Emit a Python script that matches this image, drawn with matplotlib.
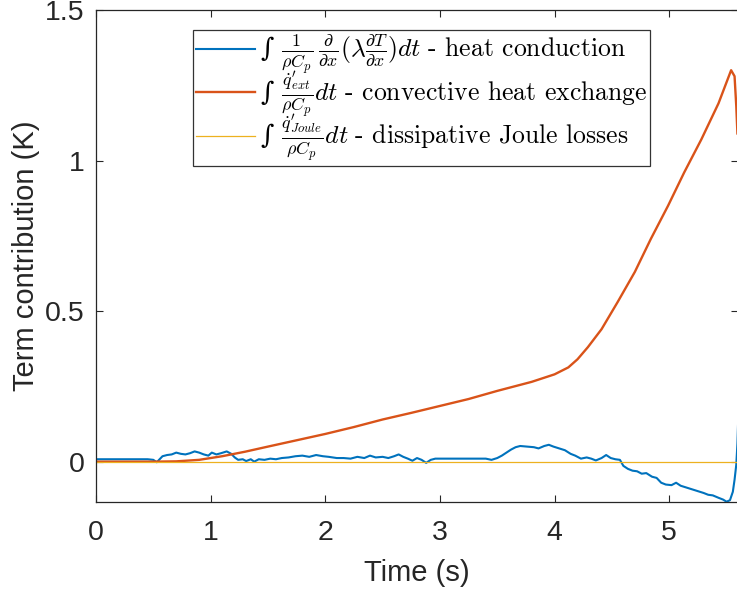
import matplotlib
matplotlib.use("Agg")
import matplotlib.pyplot as plt

# data
# heat conduction term (blue)
t_cond = [0.00, 0.45, 0.50, 0.53, 0.55, 0.58, 0.62, 0.66, 0.70, 0.74, 0.78, 0.82, 0.86, 0.90,
          0.94, 0.98, 1.01, 1.05, 1.09, 1.14, 1.18, 1.21, 1.24, 1.28, 1.31, 1.35, 1.38, 1.42,
          1.47, 1.52, 1.57, 1.62, 1.68, 1.74, 1.80, 1.86, 1.92, 1.98, 2.03, 2.10, 2.16, 2.22,
          2.28, 2.34, 2.39, 2.44, 2.50, 2.55, 2.60, 2.64, 2.68, 2.72, 2.76, 2.80, 2.84, 2.88,
          2.92, 2.96, 3.00, 3.10, 3.20, 3.30, 3.40, 3.45, 3.50, 3.54, 3.58, 3.62, 3.66, 3.70,
          3.76, 3.82, 3.86, 3.91, 3.95, 3.99, 4.04, 4.09, 4.14, 4.18, 4.23, 4.28, 4.32, 4.36,
          4.41, 4.45, 4.49, 4.53, 4.57, 4.60, 4.64, 4.68, 4.72, 4.76, 4.80, 4.85, 4.89, 4.93,
          4.97, 5.02, 5.06, 5.10, 5.15, 5.20, 5.25, 5.30, 5.34, 5.38, 5.43, 5.47, 5.50, 5.53,
          5.555, 5.57, 5.585, 5.595, 5.60]
cond = [0.008, 0.008, 0.006, -0.002, 0.006, 0.018, 0.022, 0.024, 0.030, 0.026, 0.024, 0.028, 0.034, 0.030,
        0.024, 0.020, 0.030, 0.024, 0.028, 0.034, 0.026, 0.014, 0.006, 0.008, 0.002, 0.008, 0.000, 0.008,
        0.006, 0.010, 0.008, 0.012, 0.014, 0.018, 0.020, 0.016, 0.022, 0.018, 0.016, 0.012, 0.012, 0.010,
        0.016, 0.012, 0.020, 0.014, 0.016, 0.012, 0.018, 0.024, 0.016, 0.010, 0.003, 0.012, 0.006, -0.004,
        0.006, 0.010, 0.010, 0.010, 0.010, 0.010, 0.010, 0.006, 0.012, 0.020, 0.030, 0.040, 0.048, 0.052,
        0.050, 0.048, 0.044, 0.052, 0.056, 0.050, 0.044, 0.038, 0.026, 0.020, 0.010, 0.014, 0.010, 0.004,
        0.012, 0.022, 0.012, 0.008, 0.006, -0.014, -0.024, -0.030, -0.032, -0.040, -0.038, -0.050, -0.054, -0.070,
        -0.076, -0.078, -0.070, -0.080, -0.086, -0.092, -0.098, -0.104, -0.110, -0.112, -0.120, -0.126, -0.133, -0.128,
        -0.100, -0.060, -0.010, 0.060, 0.120]

# convective heat exchange term (orange)
t_conv = [0.00, 0.50, 0.70, 0.90, 1.10, 1.30, 1.50, 1.75, 2.00, 2.25, 2.50, 2.75, 3.00, 3.25,
          3.50, 3.80, 4.00, 4.12, 4.20, 4.29, 4.41, 4.55, 4.70, 4.84, 4.99, 5.13, 5.28, 5.43,
          5.50, 5.54, 5.57, 5.585, 5.595]
conv = [0.000, 0.000, 0.001, 0.006, 0.018, 0.033, 0.050, 0.071, 0.092, 0.115, 0.140, 0.162, 0.185, 0.208,
        0.235, 0.265, 0.290, 0.313, 0.340, 0.380, 0.440, 0.530, 0.630, 0.740, 0.850, 0.960, 1.070, 1.190,
        1.260, 1.300, 1.280, 1.180, 1.090]

# Joule losses term (yellow)
t_joule = [0.0, 5.6]
joule = [0.0, 0.0]

labels = [
    '\u222b ' + r'$\frac{1}{\rho C_p}\,\frac{\partial}{\partial x}(\lambda\frac{\partial T}{\partial x})dt\ \text{- heat conduction}$',
    '\u222b ' + r'$\frac{\dot{q}^{\prime}_{ext}}{\rho C_p}dt\ \text{- convective heat exchange}$',
    '\u222b ' + r'$\frac{\dot{q}^{\prime}_{Joule}}{\rho C_p}dt\ \text{- dissipative Joule losses}$',
]

plt.rcParams['font.family'] = ['Liberation Sans', 'DejaVu Sans']
plt.rcParams['mathtext.fontset'] = 'cm'

fig = plt.figure(figsize=(7.37, 5.91), dpi=100)
ax = fig.add_axes([96 / 737, 1 - 502 / 591, 642 / 737, 492 / 591])

ax.plot(t_cond, cond, color='#0072BD', lw=1.5, label=labels[0])
ax.plot(t_conv, conv, color='#D95319', lw=1.7, label=labels[1])
ax.plot(t_joule, joule, color='#EDB120', lw=0.9, label=labels[2])

ax.set_xlim(0, 5.6)
ax.set_ylim(-0.134, 1.5)
ax.set_xticks([0, 1, 2, 3, 4, 5])
ax.set_yticks([0, 0.5, 1, 1.5])
ax.set_yticklabels(['0', '0.5', '1', '1.5'])

axis_col = '#262626'
for s in ax.spines.values():
    s.set_color(axis_col)
    s.set_linewidth(0.9)
ax.tick_params(direction='in', top=True, right=True, length=5, width=0.8,
               colors=axis_col, labelsize=20.5)
ax.tick_params(axis='x', pad=13)
ax.tick_params(axis='y', pad=8)

ax.set_xlabel('Time (s)', fontsize=21, color=axis_col, labelpad=9)
ax.set_ylabel('Term contribution (K)', fontsize=21, color=axis_col, labelpad=4)

leg = ax.legend(loc='upper left', bbox_to_anchor=(97 / 642, 472 / 492), borderaxespad=0,
                prop={'family': 'DejaVu Serif', 'size': 18.5},
                handlelength=2.3, handletextpad=0.2, labelspacing=-0.28,
                borderpad=0.1, fancybox=False, framealpha=1, edgecolor='#333333')
leg.get_frame().set_linewidth(0.9)

fig.savefig('out.png', dpi=100)
